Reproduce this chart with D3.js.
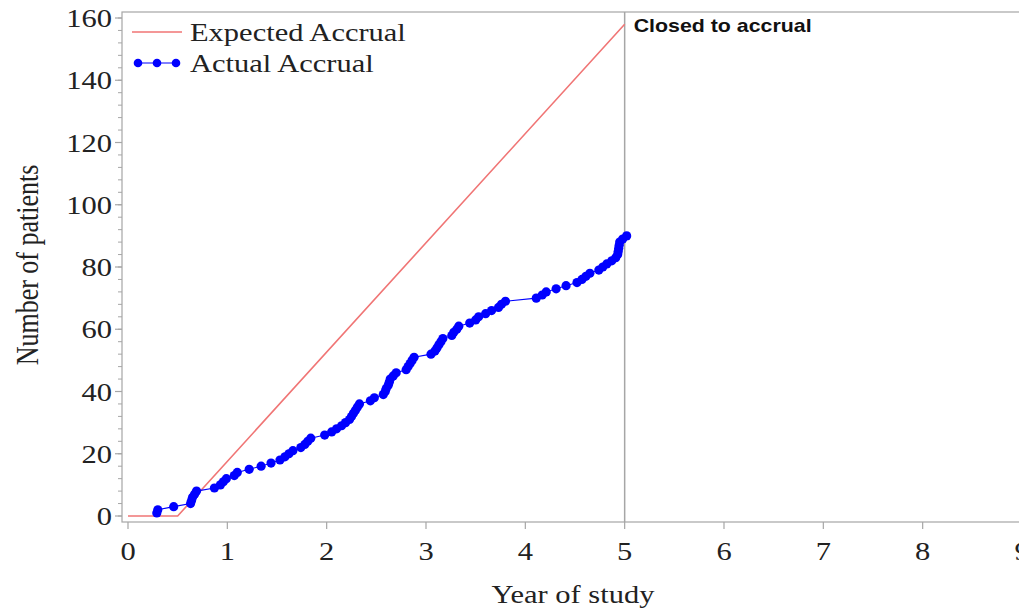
<!DOCTYPE html>
<html>
<head>
<meta charset="utf-8">
<script src="https://cdn.jsdelivr.net/npm/d3@7"></script>
<style>
  html, body { margin: 0; padding: 0; background: #fff; }
  svg { display: block; }
</style>
</head>
<body>
<svg id="chart" width="1019" height="608"></svg>
<script>
// Expected accrual: flat start-up period, then a linear ramp to the target
const expectedYear  = [0, 0.5, 5.0];
const expectedCount = [0, 0, 158];

// Actual accrual: cumulative enrolment at each patient's entry date
const actualYear = [
  0.29, 0.30, 0.46, 0.63, 0.64, 0.65, 0.67, 0.69, 0.87, 0.93,
  0.96, 0.99, 1.07, 1.10, 1.22, 1.34, 1.44, 1.53, 1.58, 1.62,
  1.66, 1.74, 1.78, 1.81, 1.84, 1.98, 2.05, 2.10, 2.15, 2.19,
  2.23, 2.25, 2.27, 2.29, 2.31, 2.33, 2.44, 2.48, 2.57, 2.59,
  2.60, 2.62, 2.63, 2.64, 2.67, 2.70, 2.80, 2.82, 2.84, 2.86,
  2.88, 3.05, 3.09, 3.11, 3.13, 3.15, 3.17, 3.26, 3.28, 3.31,
  3.33, 3.44, 3.50, 3.53, 3.60, 3.66, 3.73, 3.76, 3.80, 4.11,
  4.17, 4.21, 4.31, 4.41, 4.52, 4.57, 4.61, 4.65, 4.74, 4.78,
  4.82, 4.87, 4.91, 4.93, 4.935, 4.94, 4.945, 4.95, 4.98, 5.02
];
const actualCount = [
   1,  2,  3,  4,  5,  6,  7,  8,  9, 10,
  11, 12, 13, 14, 15, 16, 17, 18, 19, 20,
  21, 22, 23, 24, 25, 26, 27, 28, 29, 30,
  31, 32, 33, 34, 35, 36, 37, 38, 39, 40,
  41, 42, 43, 44, 45, 46, 47, 48, 49, 50,
  51, 52, 53, 54, 55, 56, 57, 58, 59, 60,
  61, 62, 63, 64, 65, 66, 67, 68, 69, 70,
  71, 72, 73, 74, 75, 76, 77, 78, 79, 80,
  81, 82, 83, 84, 85, 86, 87, 88, 89, 90
];

const closeYear = 5.0;
const closeLabel = "Closed to accrual";
const xTicks = [0, 1, 2, 3, 4, 5, 6, 7, 8, 9];
const yTicks = [0, 20, 40, 60, 80, 100, 120, 140, 160];
const yMinorTicks = d3.range(0, 161, 4);
const legendLabels = ["Expected Accrual", "Actual Accrual"];

const svg = d3.select("#chart");
const serif = "'Liberation Serif', 'Times New Roman', serif";
const sans = "'Liberation Sans', Arial, sans-serif";
const sx = 1.22;               // horizontal widening of the lettering
const axisColor = "#a6a6a6";

const x = d3.scaleLinear().domain([0, 9]).range([128, 1022]);
const y = d3.scaleLinear().domain([0, 160]).range([516, 18]);

const frame = { left: 122, right: 1030, top: 12, bottom: 522 };

// plot frame
svg.append("rect")
  .attr("x", frame.left).attr("y", frame.top)
  .attr("width", frame.right - frame.left).attr("height", frame.bottom - frame.top)
  .attr("fill", "none").attr("stroke", axisColor).attr("stroke-width", 1.2);

// y axis: major and minor ticks
svg.append("g").selectAll("line").data(yMinorTicks).join("line")
  .attr("x1", frame.left - 4).attr("x2", frame.left)
  .attr("y1", d => y(d)).attr("y2", d => y(d))
  .attr("stroke", axisColor).attr("stroke-width", 1);
svg.append("g").selectAll("line").data(yTicks).join("line")
  .attr("x1", frame.left - 7).attr("x2", frame.left)
  .attr("y1", d => y(d)).attr("y2", d => y(d))
  .attr("stroke", axisColor).attr("stroke-width", 1.2);
svg.append("g").selectAll("text").data(yTicks).join("text")
  .attr("transform", d => `translate(112,${y(d) + 9}) scale(${sx},1)`)
  .attr("text-anchor", "end")
  .attr("font-family", serif).attr("font-size", 25).attr("fill", "#222")
  .text(d => d);

// x axis ticks and labels
svg.append("g").selectAll("line").data(xTicks).join("line")
  .attr("x1", d => x(d)).attr("x2", d => x(d))
  .attr("y1", frame.bottom).attr("y2", frame.bottom + 7)
  .attr("stroke", axisColor).attr("stroke-width", 1.2);
svg.append("g").selectAll("text").data(xTicks).join("text")
  .attr("transform", d => `translate(${x(d)},560) scale(${sx},1)`)
  .attr("text-anchor", "middle")
  .attr("font-family", serif).attr("font-size", 25).attr("fill", "#222")
  .text(d => d);

// axis titles
svg.append("text")
  .attr("transform", `translate(573,603) scale(${sx},1)`)
  .attr("text-anchor", "middle")
  .attr("font-family", serif).attr("font-size", 25).attr("fill", "#222")
  .text("Year of study");
svg.append("text")
  .attr("transform", `translate(38,265) rotate(-90) scale(1,${sx})`)
  .attr("text-anchor", "middle")
  .attr("font-family", serif).attr("font-size", 26).attr("fill", "#222")
  .text("Number of patients");

// closure reference line
svg.append("line")
  .attr("x1", x(closeYear)).attr("x2", x(closeYear))
  .attr("y1", frame.top).attr("y2", frame.bottom)
  .attr("stroke", axisColor).attr("stroke-width", 1.5);
svg.append("text")
  .attr("transform", `translate(${x(closeYear) + 9},32) scale(${sx},1)`)
  .attr("font-family", sans).attr("font-weight", "bold")
  .attr("font-size", 17.5).attr("fill", "#111")
  .text(closeLabel);

// expected accrual
const expected = expectedYear.map((d, i) => [d, expectedCount[i]]);
svg.append("path")
  .datum(expected)
  .attr("d", d3.line().x(d => x(d[0])).y(d => y(d[1])))
  .attr("fill", "none").attr("stroke", "#f07575").attr("stroke-width", 1.6);

// actual accrual
const actual = actualYear.map((d, i) => [d, actualCount[i]]);
svg.append("path")
  .datum(actual)
  .attr("d", d3.line().x(d => x(d[0])).y(d => y(d[1])))
  .attr("fill", "none").attr("stroke", "#0000ff").attr("stroke-width", 1.1);
svg.append("g").selectAll("circle").data(actual).join("circle")
  .attr("cx", d => x(d[0])).attr("cy", d => y(d[1]))
  .attr("r", 4.6).attr("fill", "#0000ff");

// legend
const legend = svg.append("g");
legend.append("line")
  .attr("x1", 132).attr("x2", 182).attr("y1", 32).attr("y2", 32)
  .attr("stroke", "#f07575").attr("stroke-width", 1.6);
legend.append("line")
  .attr("x1", 136).attr("x2", 178).attr("y1", 63).attr("y2", 63)
  .attr("stroke", "#0000ff").attr("stroke-width", 1.1);
legend.selectAll("circle").data([138, 157, 176]).join("circle")
  .attr("cx", d => d).attr("cy", 63).attr("r", 4.3).attr("fill", "#0000ff");
legend.selectAll("text").data(legendLabels).join("text")
  .attr("transform", (d, i) => `translate(190,${41 + i * 31}) scale(${sx},1)`)
  .attr("font-family", serif).attr("font-size", 25).attr("fill", "#222")
  .text(d => d);
</script>
</body>
</html>
